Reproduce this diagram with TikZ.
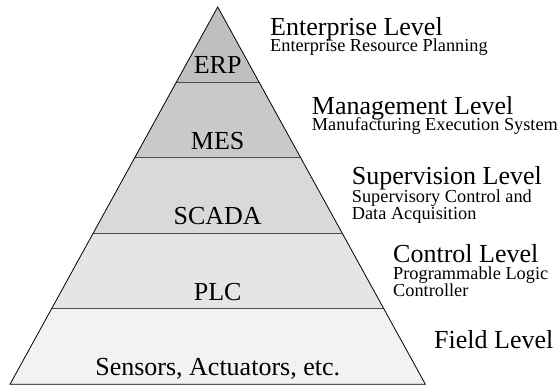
\documentclass[tikz,border=0pt]{standalone}
\usepackage{fontspec}
\setmainfont{Liberation Serif}
\begin{document}
\begin{tikzpicture}[x=1pt,y=1pt,
  divider/.style={draw=black!70,line width=1pt},
  outline/.style={draw=black,line width=0.8pt,line join=miter},
  big/.style={inner sep=0pt,font=\fontsize{26}{30}\selectfont},
  small/.style={inner sep=0pt,font=\fontsize{18.3}{20}\selectfont},
  lvl/.style={big,anchor=base west},
  sub/.style={small,anchor=base west},
  inside/.style={big,anchor=base}]
\useasboundingbox (0,0) rectangle (559,386);
% corner coordinates
\coordinate (apex) at (217.7,379);
\coordinate (l1) at (176.1,303.5); \coordinate (r1) at (259.3,303.5);
\coordinate (l2) at (134.6,228);   \coordinate (r2) at (300.8,228);
\coordinate (l3) at (93.1,152.7);  \coordinate (r3) at (342.3,152.7);
\coordinate (l4) at (51.6,77.2);   \coordinate (r4) at (383.8,77.2);
\coordinate (l5) at (10.0,1.7);    \coordinate (r5) at (425.4,1.7);
% layer fills
\fill[black!25] (apex) -- (l1) -- (r1) -- cycle;
\fill[black!21] (l1) -- (l2) -- (r2) -- (r1) -- cycle;
\fill[black!15] (l2) -- (l3) -- (r3) -- (r2) -- cycle;
\fill[black!10] (l3) -- (l4) -- (r4) -- (r3) -- cycle;
\fill[black!5]  (l4) -- (l5) -- (r5) -- (r4) -- cycle;
% dividers
\draw[divider] (l1) -- (r1);
\draw[divider] (l2) -- (r2);
\draw[divider] (l3) -- (r3);
\draw[divider] (l4) -- (r4);
% outline
\draw[outline] (apex) -- (l5) -- (r5) -- cycle;
% texts inside
\node[inside] (erp) at (217.7,312) {ERP};
\node[inside] (mes) at (217.7,236.7) {MES};
\node[inside] (scada) at (217.7,162) {SCADA};
\node[inside] (plc) at (217.7,86) {PLC};
\node[inside] (field) at (217.7,11) {Sensors, Actuators, etc.};
% level labels
\node[lvl] (ent) at (270,350) {Enterprise Level};
\node[sub] (ents) at (270,334.5) {Enterprise Resource Planning};
\node[lvl] (man) at (311.7,271) {Management Level};
\node[sub] (mans) at (311.7,255.5) {Manufacturing Execution System};
\node[lvl] (sup) at (351.7,201) {Supervision Level};
\node[sub] (sups1) at (351.7,184) {Supervisory Control and};
\node[sub] (sups2) at (351.7,166.5) {Data Acquisition};
\node[lvl] (con) at (393,123.3) {Control Level};
\node[sub] (cons1) at (393,106.5) {Programmable Logic};
\node[sub] (cons2) at (393,89.3) {Controller};
\node[lvl] (fld) at (434,38) {Field Level};
\end{tikzpicture}
\end{document}
